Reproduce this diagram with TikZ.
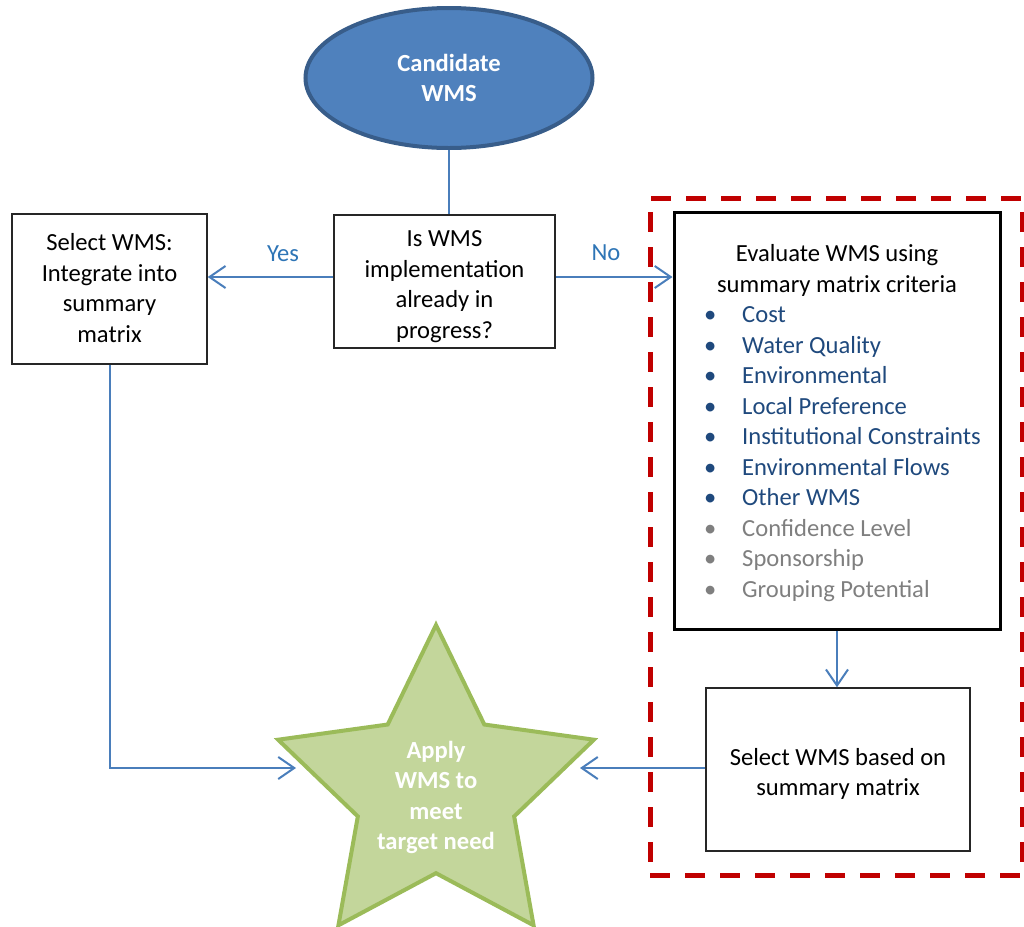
\documentclass[tikz,border=0pt]{standalone}
\usepackage{fontspec}
\setmainfont{Carlito}
\usetikzlibrary{positioning,shapes.geometric,arrows.meta}
\definecolor{wmsblue}{HTML}{4F81BD}
\definecolor{wmsrim}{HTML}{385D8A}
\definecolor{flow}{HTML}{4A7EBB}
\definecolor{answer}{HTML}{2E75B6}
\definecolor{dashred}{HTML}{C00000}
\definecolor{starfill}{HTML}{C3D69B}
\definecolor{starrim}{HTML}{9BBB59}
\definecolor{critmain}{HTML}{1F497D}
\definecolor{critsoft}{HTML}{7F7F7F}
\newcommand{\maincrit}[1]{\textcolor{critmain}{\textbullet} & \textcolor{critmain}{#1}\\}
\newcommand{\softcrit}[1]{\textcolor{critsoft}{\textbullet} & \textcolor{critsoft}{#1}\\}
% lines of a box, set a little lower than the middle
\newcommand{\boxlines}[2]{\raisebox{0pt}[\dimexpr\height+#1\relax][\depth]{\begin{tabular}{@{}c@{}}#2\end{tabular}}}

\begin{document}
\begin{tikzpicture}[x=0.5pt, y=-0.5pt,
  every node/.style={font=\fontsize{12.3}{15.25}\selectfont},
  box/.style={draw=black!85, line width=0.75pt, align=center, inner sep=0pt},
  flowline/.style={draw=flow, line width=1pt},
  flowarrow/.style={flowline, -{Straight Barb[length=8pt,width=11pt]}},
  answerlabel/.style={text=answer, inner sep=1pt},
  boldwhite/.style={text=white, align=center, font=\fontsize{12.3}{15.25}\selectfont\bfseries}
]
  \useasboundingbox (0,0) rectangle (1024,927);

  \node[draw=dashred, line width=2.5pt, dash pattern=on 10pt off 7.5pt, minimum width=186pt, minimum height=338.5pt, inner sep=0pt] (group) at (836,536.5) {};

  \node[ellipse, boldwhite, draw=wmsrim, line width=2pt, fill=wmsblue, minimum width=143.5pt, minimum height=70pt, inner sep=0pt] (cand) at (449,78) {Candidate\\WMS};
  \node[box, minimum width=110.5pt, minimum height=66.5pt] (prog) at (444.5,281.5) {\boxlines{5pt}{Is WMS\\implementation\\already in\\progress?}};
  \node[box, minimum width=97.5pt, minimum height=75pt] (integ) at (109.5,289) {\boxlines{1.5pt}{Select WMS:\\Integrate into\\summary\\matrix}};
  \node[box, draw=black, line width=1.5pt, minimum width=163pt, minimum height=208.5pt] (eval) at (837,420.5) {%
    \raisebox{0pt}[\dimexpr\height+3pt\relax][\depth]{%
    \begin{tabular}{@{\hspace{5.5pt}}p{19pt}@{}l@{}}
      \multicolumn{2}{@{}c@{}}{Evaluate WMS using}\\
      \multicolumn{2}{@{}c@{}}{summary matrix criteria}\\
      \maincrit{Cost}
      \maincrit{Water Quality}
      \maincrit{Environmental}
      \maincrit{Local Preference}
      \maincrit{Institutional Constraints}
      \maincrit{Environmental Flows}
      \maincrit{Other WMS}
      \softcrit{Confidence Level}
      \softcrit{Sponsorship}
      \softcrit{Grouping Potential}
    \end{tabular}}};
  \node[box, minimum width=132pt, minimum height=81.5pt] (sel) at (838,769.5) {\boxlines{5pt}{Select WMS based on\\summary matrix}};
  \node[star, star points=5, star point ratio=2.02, minimum size=166pt, inner sep=-20pt, boldwhite, fill=starfill, draw=starrim, line width=2pt] (apply) at (436,791) {\raisebox{0pt}[\dimexpr\height+7pt\relax][\depth]{\begin{tabular}{@{}c@{}}Apply\\WMS to\\meet\\target need\end{tabular}}};

  \coordinate (leftin) at (296,768);
  \coordinate (rightin) at (580,768);

  \draw[flowline] (cand.south) -- (cand.south |- prog.north);
  \draw[flowarrow] ([yshift=2.25pt]prog.west) -- node[answerlabel, pos=0.4, yshift=11.5pt] (yes) {Yes} ([yshift=2.25pt]prog.west -| integ.east);
  \draw[flowarrow] ([yshift=2.25pt]prog.east) -- node[answerlabel, pos=0.43, yshift=12pt] (no) {No} ([yshift=2.25pt]prog.east -| eval.west);
  \draw[flowarrow] (eval.south) -- (eval.south |- sel.north);
  \draw[flowarrow] (integ.south) |- (leftin);
  \draw[flowarrow] (sel.west |- rightin) -- (rightin);
\end{tikzpicture}
\end{document}
